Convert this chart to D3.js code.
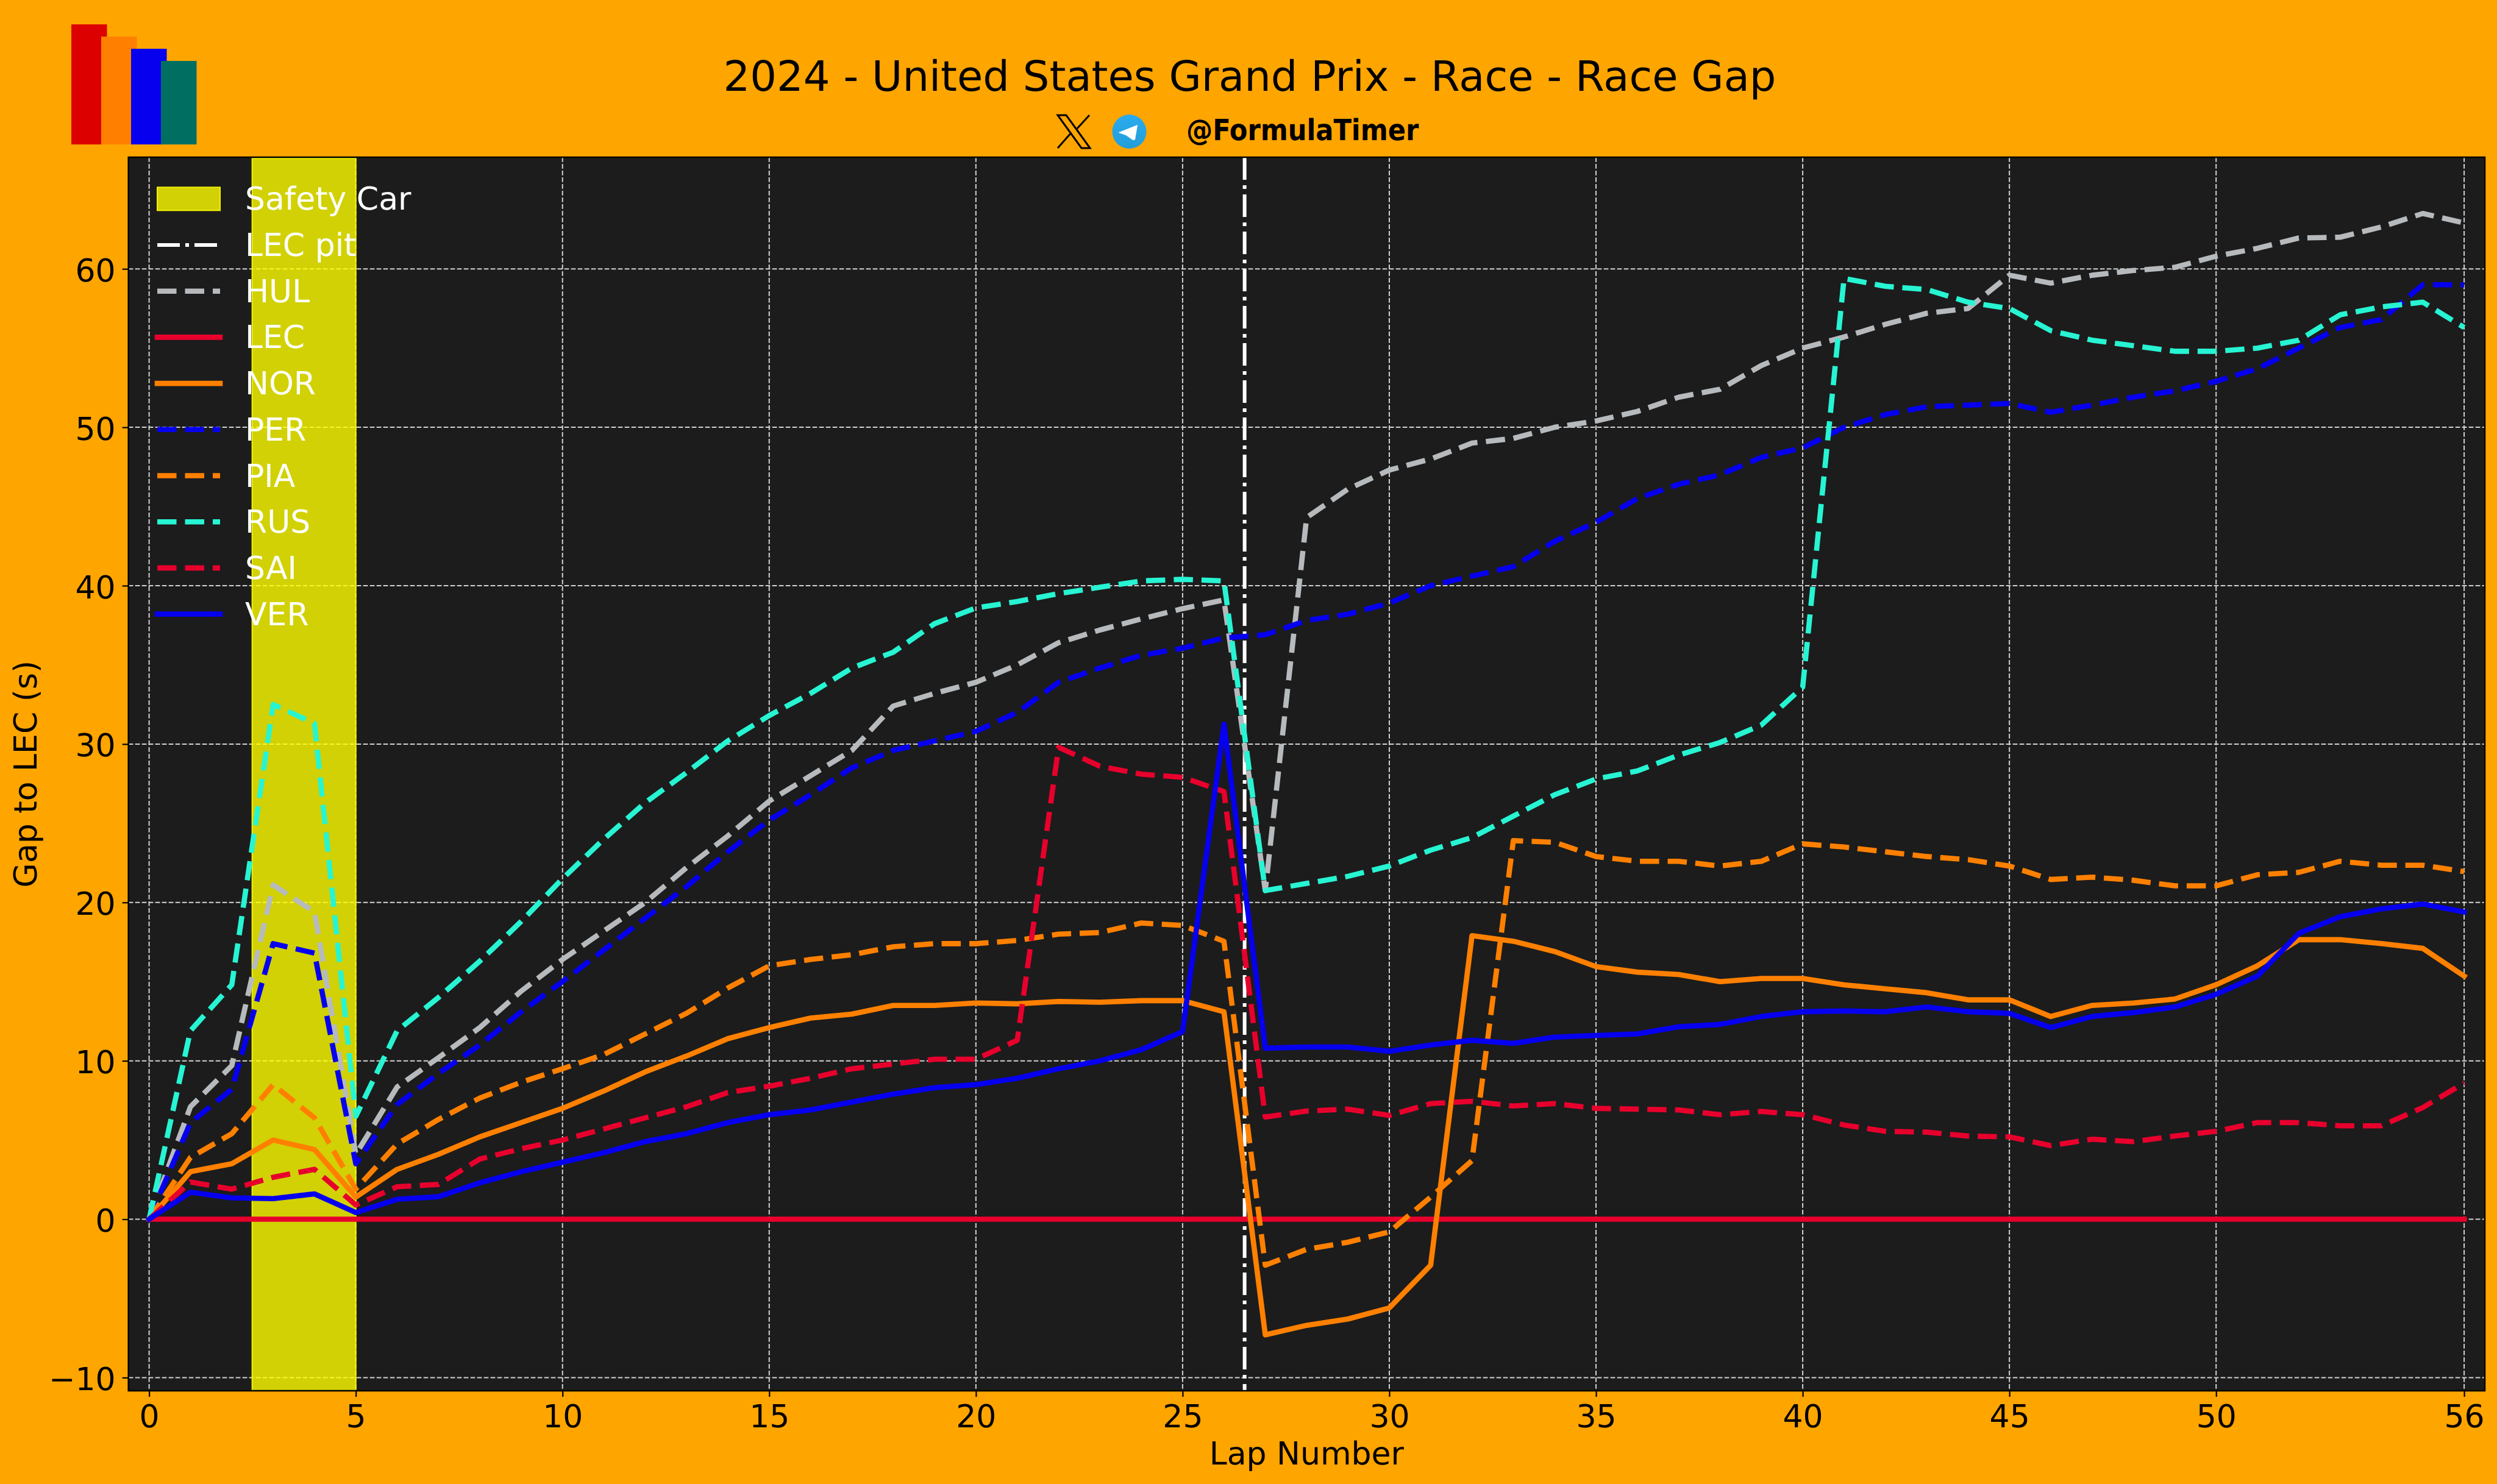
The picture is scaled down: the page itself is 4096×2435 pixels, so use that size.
<!DOCTYPE html>
<html>
<head>
<meta charset="utf-8">
<title>2024 - United States Grand Prix - Race - Race Gap</title>
<script src="https://cdn.jsdelivr.net/npm/d3@7"></script>
<style>
  html, body { margin: 0; padding: 0; background: #ffa500; }
  text { font-family: "DejaVu Sans", sans-serif; text-rendering: geometricPrecision; }
</style>
</head>
<body>
<div id="chart"></div>
<script>
// gap to the leader per lap, lap 0 to lap 56
const laps = [0,1,2,3,4,5,6,7,8,9,10,11,12,13,14,15,16,17,18,19,20,21,22,23,24,25,26,27,28,29,30,31,32,33,34,35,36,37,38,39,40,41,42,43,44,45,46,47,48,49,50,51,52,53,54,55,56];

const HUL = [0,7.1,9.7,21.1,19.4,4.1,8.35,10.2,12.1,14.4,16.4,18.2,20,22.2,24.2,26.4,28,29.6,32.4,33.2,33.9,35,36.4,37.2,37.9,38.55,39.1,20.75,44.3,46.1,47.3,48,49,49.3,50,50.4,51,51.9,52.4,53.9,55,55.7,56.5,57.2,57.5,59.6,59.1,59.6,59.9,60.1,60.8,61.3,61.95,62,62.65,63.5,62.9];
const LEC = [0,0,0,0,0,0,0,0,0,0,0,0,0,0,0,0,0,0,0,0,0,0,0,0,0,0,0,0,0,0,0,0,0,0,0,0,0,0,0,0,0,0,0,0,0,0,0,0,0,0,0,0,0,0,0,0,0];
const NOR = [0,3,3.5,5,4.4,1.4,3.15,4.1,5.2,6.1,7,8.1,9.3,10.3,11.4,12.1,12.7,12.95,13.5,13.5,13.65,13.6,13.75,13.7,13.8,13.8,13.1,-7.3,-6.7,-6.3,-5.6,-2.9,17.9,17.55,16.9,15.95,15.6,15.45,15,15.2,15.2,14.8,14.55,14.3,13.85,13.85,12.8,13.5,13.65,13.9,14.8,16,17.65,17.65,17.4,17.1,15.35];
const PER = [0,6.1,8.2,17.4,16.8,3.5,7.25,9.2,11,13.1,15,17,19,21,23.2,25.2,26.8,28.5,29.6,30.2,30.8,32,33.9,34.8,35.6,36.05,36.7,36.9,37.8,38.2,38.9,40,40.6,41.2,42.8,44,45.5,46.4,47,48.1,48.7,50,50.8,51.3,51.4,51.5,50.95,51.4,51.9,52.3,52.9,53.7,55,56.3,56.8,59,59];
const PIA = [0,3.9,5.4,8.5,6.4,1.9,4.75,6.3,7.65,8.65,9.5,10.4,11.7,13,14.6,16,16.4,16.7,17.2,17.4,17.4,17.6,18,18.1,18.7,18.55,17.55,-2.9,-1.9,-1.45,-0.8,1.4,3.7,23.9,23.8,22.9,22.6,22.6,22.3,22.6,23.7,23.5,23.2,22.9,22.7,22.3,21.45,21.6,21.4,21.05,21.05,21.75,21.9,22.6,22.35,22.35,21.95];
const RUS = [0,11.9,14.8,32.5,31.3,6.5,11.9,14,16.3,18.8,21.5,24,26.3,28.2,30.2,31.8,33.2,34.8,35.8,37.6,38.6,39,39.5,39.9,40.3,40.4,40.3,20.75,21.2,21.65,22.3,23.3,24.1,25.45,26.8,27.8,28.3,29.3,30.1,31.2,33.6,59.4,58.9,58.7,57.9,57.5,56.1,55.5,55.15,54.8,54.8,55,55.5,57.1,57.6,57.9,56.3];
const SAI = [0,2.35,1.9,2.65,3.15,0.9,2.05,2.2,3.8,4.45,5,5.7,6.4,7.1,8,8.4,8.9,9.5,9.8,10.1,10.1,11.3,29.8,28.6,28.1,27.9,27,6.45,6.83,6.95,6.55,7.3,7.45,7.15,7.3,7,6.95,6.9,6.6,6.8,6.6,5.95,5.55,5.5,5.25,5.2,4.65,5.05,4.9,5.25,5.55,6.1,6.1,5.9,5.9,7.05,8.6];
const VER = [0,1.7,1.35,1.3,1.6,0.42,1.26,1.42,2.3,3,3.6,4.2,4.9,5.4,6.1,6.6,6.9,7.4,7.9,8.3,8.5,8.9,9.5,10,10.7,11.85,31.25,10.8,10.87,10.87,10.6,11,11.3,11.1,11.5,11.6,11.7,12.15,12.3,12.8,13.1,13.15,13.1,13.4,13.1,13,12.1,12.8,13.05,13.4,14.2,15.35,18.05,19.1,19.6,19.9,19.4];

const drivers = ["HUL", "LEC", "NOR", "PER", "PIA", "RUS", "SAI", "VER"];
const gaps = [HUL, LEC, NOR, PER, PIA, RUS, SAI, VER];
const colors = ["#b6babd", "#e8002d", "#ff8000", "#0600ef", "#ff8000", "#27f4d2", "#e8002d", "#0600ef"];
const dashed = [true, false, false, true, true, true, true, false];

const xTicks = [0, 5, 10, 15, 20, 25, 30, 35, 40, 45, 50, 56];
const yTicks = [-10, 0, 10, 20, 30, 40, 50, 60];
const safetyCar = [2.5, 5];
const pitLap = 26.5;

const logoColors = ["#dc0000", "#ff8000", "#0600ef", "#006f62"];

const width = 4096;
const height = 2435;
const margin = { top: 258, right: 20, bottom: 153, left: 210.7 };
const fontSize = "52px";
const lineWidth = 8.6;
const lineDash = "31.5 14";

const svg = d3
  .select("#chart")
  .append("svg")
  .attr("width", width)
  .attr("height", height)
  .style("display", "block");

svg.append("rect").attr("width", width).attr("height", height).attr("fill", "#ffa500");

const x = d3.scaleLinear().domain([-0.5, 56.5]).range([margin.left, width - margin.right]);
const y = d3.scaleLinear().domain([-10.83, 67.05]).range([height - margin.bottom, margin.top]);

svg
  .append("rect")
  .attr("x", margin.left)
  .attr("y", margin.top)
  .attr("width", width - margin.left - margin.right)
  .attr("height", height - margin.top - margin.bottom)
  .attr("fill", "#1c1c1c");

// grid
const grid = svg.append("g").attr("stroke", "#d2d2d2").attr("stroke-width", 2).attr("stroke-dasharray", "7.7 3.3");
grid
  .selectAll("line.gx")
  .data(xTicks)
  .enter()
  .append("line")
  .attr("x1", (d) => x(d))
  .attr("x2", (d) => x(d))
  .attr("y1", margin.top)
  .attr("y2", height - margin.bottom);
grid
  .selectAll("line.gy")
  .data(yTicks)
  .enter()
  .append("line")
  .attr("x1", margin.left)
  .attr("x2", width - margin.right)
  .attr("y1", (d) => y(d))
  .attr("y2", (d) => y(d));

// safety car span
svg
  .append("rect")
  .attr("x", x(safetyCar[0]) - 0.5)
  .attr("y", margin.top + 2)
  .attr("width", x(safetyCar[1]) - x(safetyCar[0]) + 0.5)
  .attr("height", height - margin.top - margin.bottom - 2)
  .attr("fill", "rgba(255,255,0,0.8)")
  .attr("stroke", "#f2f200")
  .attr("stroke-width", 2);

// pit line
svg
  .append("line")
  .attr("x1", x(pitLap))
  .attr("x2", x(pitLap))
  .attr("y1", margin.top)
  .attr("y2", height - margin.bottom)
  .attr("stroke", "#fff")
  .attr("stroke-width", 6)
  .attr("stroke-dasharray", "37 9 6 9");

// driver lines
const line = d3
  .line()
  .x((d) => x(d[0]))
  .y((d) => y(d[1]));

svg
  .append("g")
  .selectAll("path")
  .data(drivers)
  .enter()
  .append("path")
  .attr("d", (d, i) => line(laps.map((l, j) => [l, gaps[i][j]])))
  .attr("fill", "none")
  .attr("stroke", (d, i) => colors[i])
  .attr("stroke-width", lineWidth)
  .attr("stroke-linejoin", "round")
  .attr("stroke-linecap", (d, i) => (dashed[i] ? "butt" : "square"))
  .attr("stroke-dasharray", (d, i) => (dashed[i] ? lineDash : null));

// axes
const xAxis = svg
  .append("g")
  .attr("transform", `translate(0,${height - margin.bottom})`)
  .call(d3.axisBottom(x).tickValues(xTicks).tickSize(10).tickPadding(13));
const yAxis = svg
  .append("g")
  .attr("transform", `translate(${margin.left},0)`)
  .call(d3.axisLeft(y).tickValues(yTicks).tickSize(10).tickPadding(11).tickFormat((d) => (d < 0 ? "\u2212" + Math.abs(d) : d)));

[xAxis, yAxis].forEach((a) => {
  a.selectAll("text").attr("fill", "#000").style("font-size", fontSize).style("font-family", '"DejaVu Sans"');
  a.selectAll("line").attr("stroke", "#000").attr("stroke-width", 2.2);
  a.select(".domain").remove();
});
yAxis.selectAll("text").attr("dy", "0.385em");

svg
  .append("rect")
  .attr("x", margin.left)
  .attr("y", margin.top)
  .attr("width", width - margin.left - margin.right)
  .attr("height", height - margin.top - margin.bottom)
  .attr("fill", "none")
  .attr("stroke", "#000")
  .attr("stroke-width", 2.5);

svg
  .append("text")
  .attr("x", (margin.left + width - margin.right) / 2)
  .attr("y", 2403)
  .attr("text-anchor", "middle")
  .style("font-size", fontSize)
  .text("Lap Number");

svg
  .append("text")
  .attr("transform", `translate(60,${(margin.top + height - margin.bottom) / 2}) rotate(-90)`)
  .attr("text-anchor", "middle")
  .style("font-size", fontSize)
  .text("Gap to LEC (s)");

// legend
const legend = svg.append("g");
const legendRows = ["Safety Car", "LEC pit"].concat(drivers);
const legendRow = legend
  .selectAll("g")
  .data(legendRows)
  .enter()
  .append("g")
  .attr("transform", (d, i) => `translate(0,${326.3 + i * 75.7})`);

legendRow
  .append("text")
  .attr("x", 402)
  .attr("y", 18)
  .attr("fill", "#fff")
  .style("font-size", fontSize)
  .text((d) => d);

legendRow
  .filter((d, i) => i === 0)
  .append("rect")
  .attr("x", 258)
  .attr("y", -19)
  .attr("width", 103)
  .attr("height", 38)
  .attr("fill", "rgba(255,255,0,0.8)")
  .attr("stroke", "#f2f200")
  .attr("stroke-width", 2);

legendRow
  .filter((d, i) => i === 1)
  .append("line")
  .attr("x1", 258)
  .attr("x2", 361)
  .attr("stroke", "#fff")
  .attr("stroke-width", 6)
  .attr("stroke-dasharray", "37 9 6 9");

legendRow
  .filter((d, i) => i > 1)
  .append("line")
  .attr("x1", 258)
  .attr("x2", 361)
  .attr("stroke", (d) => colors[drivers.indexOf(d)])
  .attr("stroke-width", lineWidth)
  .attr("stroke-linecap", (d) => (dashed[drivers.indexOf(d)] ? "butt" : "square"))
  .attr("stroke-dasharray", (d) => (dashed[drivers.indexOf(d)] ? lineDash : null));

// header
svg
  .append("text")
  .attr("x", 2050)
  .attr("y", 149)
  .attr("text-anchor", "middle")
  .style("font-size", "68.75px")
  .text("2024 - United States Grand Prix - Race - Race Gap");

svg
  .append("text")
  .attr("x", 1946)
  .attr("y", 230)
  .style("font-family", '"DejaVu Sans Condensed", "DejaVu Sans"')
  .style("font-stretch", "condensed")
  .style("font-weight", "bold")
  .style("font-size", "48px")
  .text("@FormulaTimer");

// logo, four overlapping bars stepping down
const logo = svg.append("g");
logo
  .selectAll("rect")
  .data(logoColors)
  .enter()
  .append("rect")
  .attr("x", (d, i) => 117 + i * 49)
  .attr("y", (d, i) => 40 + i * 20)
  .attr("width", 58.5)
  .attr("height", (d, i) => 197 - i * 20)
  .attr("fill", (d) => d);

// X icon
svg
  .append("path")
  .attr("d", "M1735 189H1749L1788 243H1774Z M1787 189L1765 213 M1735 243L1757 218")
  .attr("fill", "none")
  .attr("stroke", "#000")
  .attr("stroke-width", 3);

// telegram icon
const tg = svg
  .append("defs")
  .append("linearGradient")
  .attr("id", "tg")
  .attr("x1", 0)
  .attr("x2", 0)
  .attr("y1", 0)
  .attr("y2", 1);
tg.append("stop").attr("offset", "0%").attr("stop-color", "#2aabee");
tg.append("stop").attr("offset", "100%").attr("stop-color", "#229ed9");
svg.append("circle").attr("cx", 1852.5).attr("cy", 216).attr("r", 28).attr("fill", "url(#tg)");
svg
  .append("path")
  .attr("d", "M1865.5 205.5L1835.5 217.5L1847 221.5L1858.5 229.5L1861.5 229Z")
  .attr("fill", "#fff")
  .attr("stroke", "#fff")
  .attr("stroke-width", 1)
  .attr("stroke-linejoin", "round");
</script>
</body>
</html>
